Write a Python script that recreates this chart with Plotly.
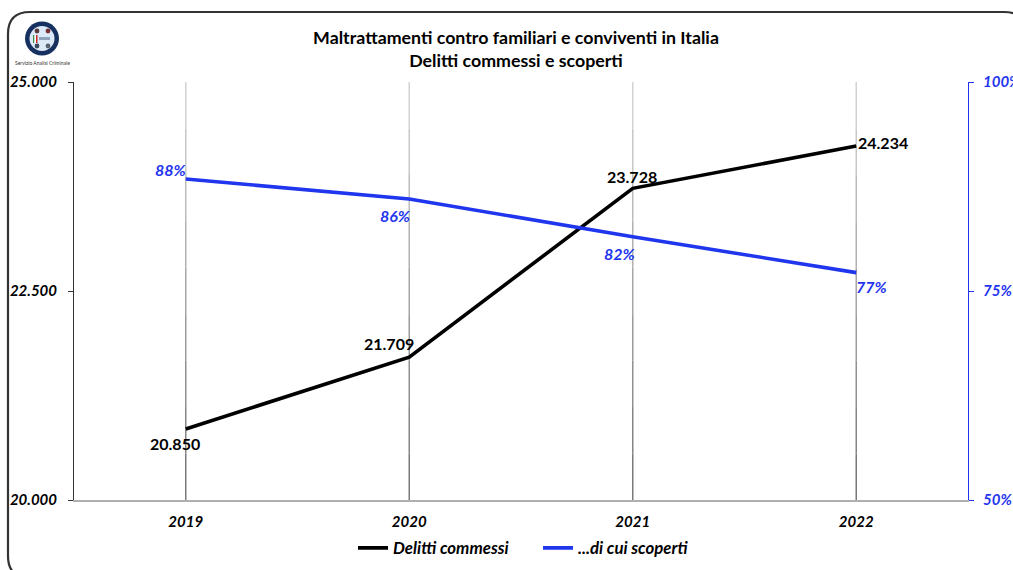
import plotly.graph_objects as go

W, H = 1013, 570
FONT = "Lato"
BLACK = "#000000"
BLUE = "#1F35EE"

years = ["2019", "2020", "2021", "2022"]
delitti = [20850, 21709, 23728, 24234]
scoperti = [88.4, 86.0, 81.5, 77.2]
delitti_labels = ["20.850", "21.709", "23.728", "24.234"]
scoperti_labels = ["88%", "86%", "82%", "77%"]
left_ticks = [20000, 22500, 25000]
left_tick_labels = ["20.000", "22.500", "25.000"]
right_ticks = [50, 75, 100]
right_tick_labels = ["50%", "75%", "100%"]
title_lines = ["Maltrattamenti contro familiari e conviventi in Italia", "Delitti commessi e scoperti"]
series_names = ["Delitti commessi", "...di cui scoperti"]
logo_caption = "Servizio Analisi Criminale"

delitti_offsets = [(-11, -15), (-20, 14), (-1, 12), (27, 4)]
scoperti_offsets = [(-15, 9), (-14, -16), (-13, -17), (15, -14)]
grid_band_greys = [0x7A, 0x85, 0x90, 0x9B, 0xA6, 0xB1, 0xBC, 0xC7, 0xD2]


def px(x):
    return x / W


def py(y):
    return 1 - y / H


fig = go.Figure()
fig.add_trace(go.Scatter(x=years, y=delitti, name=series_names[0], mode="lines",
                         line=dict(color=BLACK, width=3.6), yaxis="y", cliponaxis=False))
fig.add_trace(go.Scatter(x=years, y=scoperti, name=series_names[1], mode="lines",
                         line=dict(color=BLUE, width=3.6), yaxis="y2", cliponaxis=False))

annotations = []
for i, (v, t, (dx, dy)) in enumerate(zip(delitti, delitti_labels, delitti_offsets)):
    annotations.append(dict(x=i, y=v, xref="x", yref="y", text=t, showarrow=False, xshift=dx, yshift=dy,
                            font=dict(family=FONT, size=16, color=BLACK, weight="bold")))
for i, (v, t, (dx, dy)) in enumerate(zip(scoperti, scoperti_labels, scoperti_offsets)):
    annotations.append(dict(x=i, y=v, xref="x", yref="y2", text=t, showarrow=False, xshift=dx, yshift=dy,
                            font=dict(family=FONT, size=16, color=BLUE, weight="bold", style="italic")))
annotations.append(dict(x=px(42), y=py(58.5), xref="paper", yref="paper", xanchor="center", text=logo_caption,
                        showarrow=False, font=dict(family=FONT, size=5, color="#333333")))

# rounded outer frame, running off the right and bottom edges
L, T, R, B, r = 8, 12, 1026, 578, 22
frame = (f"M {px(L)} {py(T + r)} Q {px(L)} {py(T)} {px(L + r)} {py(T)} L {px(R - r)} {py(T)} "
         f"Q {px(R)} {py(T)} {px(R)} {py(T + r)} L {px(R)} {py(B - r)} "
         f"Q {px(R)} {py(B)} {px(R - r)} {py(B)} L {px(L + r)} {py(B)} "
         f"Q {px(L)} {py(B)} {px(L)} {py(B - r)} Z")
shapes = [dict(type="path", xref="paper", yref="paper", path=frame, line=dict(color="#333333", width=2.2),
               layer="below")]

# vertical gridlines that fade from dark at the axis to light at the top
n_bands = len(grid_band_greys)
for i in range(len(years)):
    for b, g in enumerate(grid_band_greys):
        shapes.append(dict(type="line", xref="x", yref="y domain", x0=i, x1=i, y0=b / n_bands, y1=(b + 1) / n_bands,
                           line=dict(color=f"rgb({g},{g},{g})", width=1.5), layer="below"))


def circle(cx, cy, rad, fill, line=None, lw=0):
    return dict(type="circle", xref="paper", yref="paper", x0=px(cx - rad), x1=px(cx + rad),
                y0=py(cy + rad), y1=py(cy - rad), fillcolor=fill,
                line=dict(color=line or fill, width=lw), layer="below")


shapes += [circle(42, 38.5, 17, "#16305F"), circle(42, 38.5, 12.5, "#DCE9F7")]
shapes += [circle(37, 31, 2.4, "#5A3A3A"), circle(48, 31, 2.4, "#7A3030"),
           circle(37, 46, 2.4, "#39475A"), circle(48, 46, 2.4, "#5A6470")]
shapes += [dict(type="rect", xref="paper", yref="paper", x0=px(a), x1=px(b), y0=py(43), y1=py(35),
                fillcolor=c, line=dict(width=0), layer="below")
           for a, b, c in [(33, 34.5, "#3C8C4A"), (34.5, 36, "#FFFFFF"), (36, 37.5, "#C8282D")]]
shapes += [dict(type="rect", xref="paper", yref="paper", x0=px(39), x1=px(50), y0=py(40), y1=py(37),
                fillcolor="#8FA3BD", line=dict(width=0), layer="below")]

fig.update_layout(
    width=W, height=H, autosize=False,
    margin=dict(l=0, r=0, t=0, b=0, pad=0, autoexpand=False),
    paper_bgcolor="white", plot_bgcolor="white",
    title=dict(text="<br>".join(title_lines), x=516 / W, xanchor="center", y=py(44), yanchor="top",
               font=dict(family=FONT, size=17.8, color=BLACK, weight="bold")),
    xaxis=dict(domain=[px(74), px(968)], type="category", categoryorder="array", categoryarray=years,
               range=[-0.5, 3.5], showgrid=False, automargin=False,
               showline=True, linecolor="#B0B0B0", linewidth=1.5, zeroline=False,
               ticks="", ticklabelstandoff=7,
               tickfont=dict(family=FONT, size=15, color=BLACK, weight="bold", style="italic")),
    yaxis=dict(domain=[py(500), py(82)], range=[20000, 25000], tickvals=left_ticks, ticktext=left_tick_labels,
               showgrid=False, zeroline=False, showline=True, linecolor="#333333", linewidth=1, automargin=False,
               ticks="outside", ticklen=5, tickcolor="#333333", ticklabelstandoff=8,
               tickfont=dict(family=FONT, size=15, color=BLACK, weight="bold", style="italic")),
    yaxis2=dict(overlaying="y", side="right", anchor="x", range=[50, 100], tickvals=right_ticks,
                ticktext=right_tick_labels, showgrid=False, zeroline=False, showline=True, linecolor=BLUE,
                linewidth=1, ticks="outside", ticklen=5, tickcolor=BLUE, ticklabelstandoff=6, automargin=False,
                tickfont=dict(family=FONT, size=15, color=BLUE, weight="bold", style="italic")),
    legend=dict(orientation="h", x=px(353), xanchor="left", y=py(548), yanchor="middle",
                entrywidth=140, entrywidthmode="pixels",
                font=dict(family=FONT, size=16.8, color=BLACK, weight="bold", style="italic"),
                bgcolor="rgba(0,0,0,0)"),
    annotations=annotations,
    shapes=shapes,
)

fig.write_html("out.html", config={"displayModeBar": False},
               post_script="document.body.style.margin='0';document.documentElement.style.overflow='hidden';")
